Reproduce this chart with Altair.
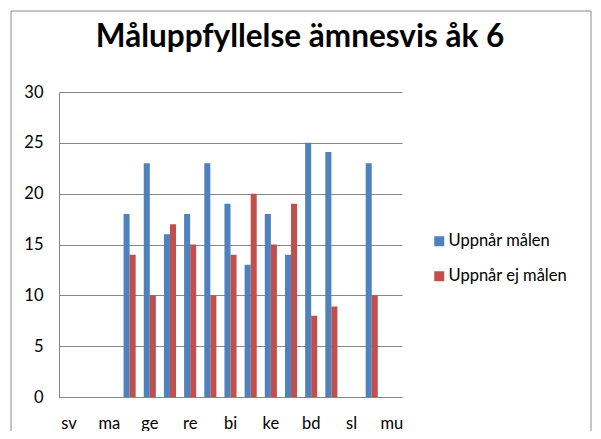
import altair as alt
import pandas as pd

categories = ["sv", "en", "ma", "hi", "ge", "sh", "re", "tk", "bi", "fy",
              "ke", "ty", "bd", "hkk", "sl", "id", "mu"]
shown_labels = ["sv", "ma", "ge", "re", "bi", "ke", "bd", "sl", "mu"]
uppnar = [None, None, None, 18, 23, 16, 18, 23, 19, 13, 18, 14, 25, 24.1, None, 23, None]
uppnar_ej = [None, None, None, 14, 10, 17, 15, 10, 14, 20, 15, 19, 8, 8.9, None, 10, None]
series = ["Uppnår målen", "Uppnår ej målen"]
colors = ["#4F81BD", "#C0504D"]
y_ticks = [0, 5, 10, 15, 20, 25, 30]
title_text = "Måluppfyllelse ämnesvis åk 6"

rows = []
for c, a, b in zip(categories, uppnar, uppnar_ej):
    rows.append({"amne": c, "serie": series[0], "varde": a})
    rows.append({"amne": c, "serie": series[1], "varde": b})
df = pd.DataFrame(rows)

FONT = "Lato"
GRID = "#868686"
FS = 16.5

bars = alt.Chart(df).mark_bar().encode(
    x=alt.X("amne:N", sort=categories,
            scale=alt.Scale(domain=categories, paddingInner=0.4, paddingOuter=0.2),
            axis=alt.Axis(values=shown_labels, title=None, labelAngle=0, ticks=False,
                          domainColor=GRID, labelFontSize=FS, labelFont=FONT,
                          labelColor="black", labelPadding=18, grid=False)),
    xOffset=alt.XOffset("serie:N", sort=series,
                        scale=alt.Scale(domain=series, paddingInner=0, paddingOuter=0)),
    y=alt.Y("varde:Q", scale=alt.Scale(domain=[0, 30]),
            axis=alt.Axis(values=y_ticks, title=None, ticks=False, gridColor=GRID,
                          gridOpacity=1, domainColor=GRID, labelPadding=16,
                          labelFontSize=FS, labelFont=FONT, labelColor="black")),
    color=alt.Color("serie:N", sort=series,
                    scale=alt.Scale(domain=series, range=colors),
                    legend=alt.Legend(title=None, orient="none", legendX=372, legendY=141,
                                      symbolType="square", symbolSize=100,
                                      symbolStrokeWidth=0, labelFontSize=FS,
                                      labelFont=FONT, labelColor="black",
                                      rowPadding=18, labelOffset=1)),
)

frame = alt.Chart(pd.DataFrame({"k": [0]})).mark_rect(
    fillOpacity=0, stroke="#8c8c8c", strokeWidth=1
).encode(x=alt.value(-48), x2=alt.value(532), y=alt.value(-81), y2=alt.value(345))

title = alt.Chart(pd.DataFrame({"t": [title_text]})).mark_text(
    font=FONT, fontSize=31.5, fontWeight="bold", color="black",
    align="center", baseline="alphabetic"
).encode(text="t:N", x=alt.value(241), y=alt.value(-45))

chart = alt.layer(frame, title, bars).properties(
    width=343, height=305,
    padding={"left": 51, "top": 84, "right": 191, "bottom": 34},
    autosize=alt.AutoSizeParams(type="none"),
).configure_view(strokeWidth=0)

chart.save("out.html", embed_options={"renderer": "svg", "actions": False})
